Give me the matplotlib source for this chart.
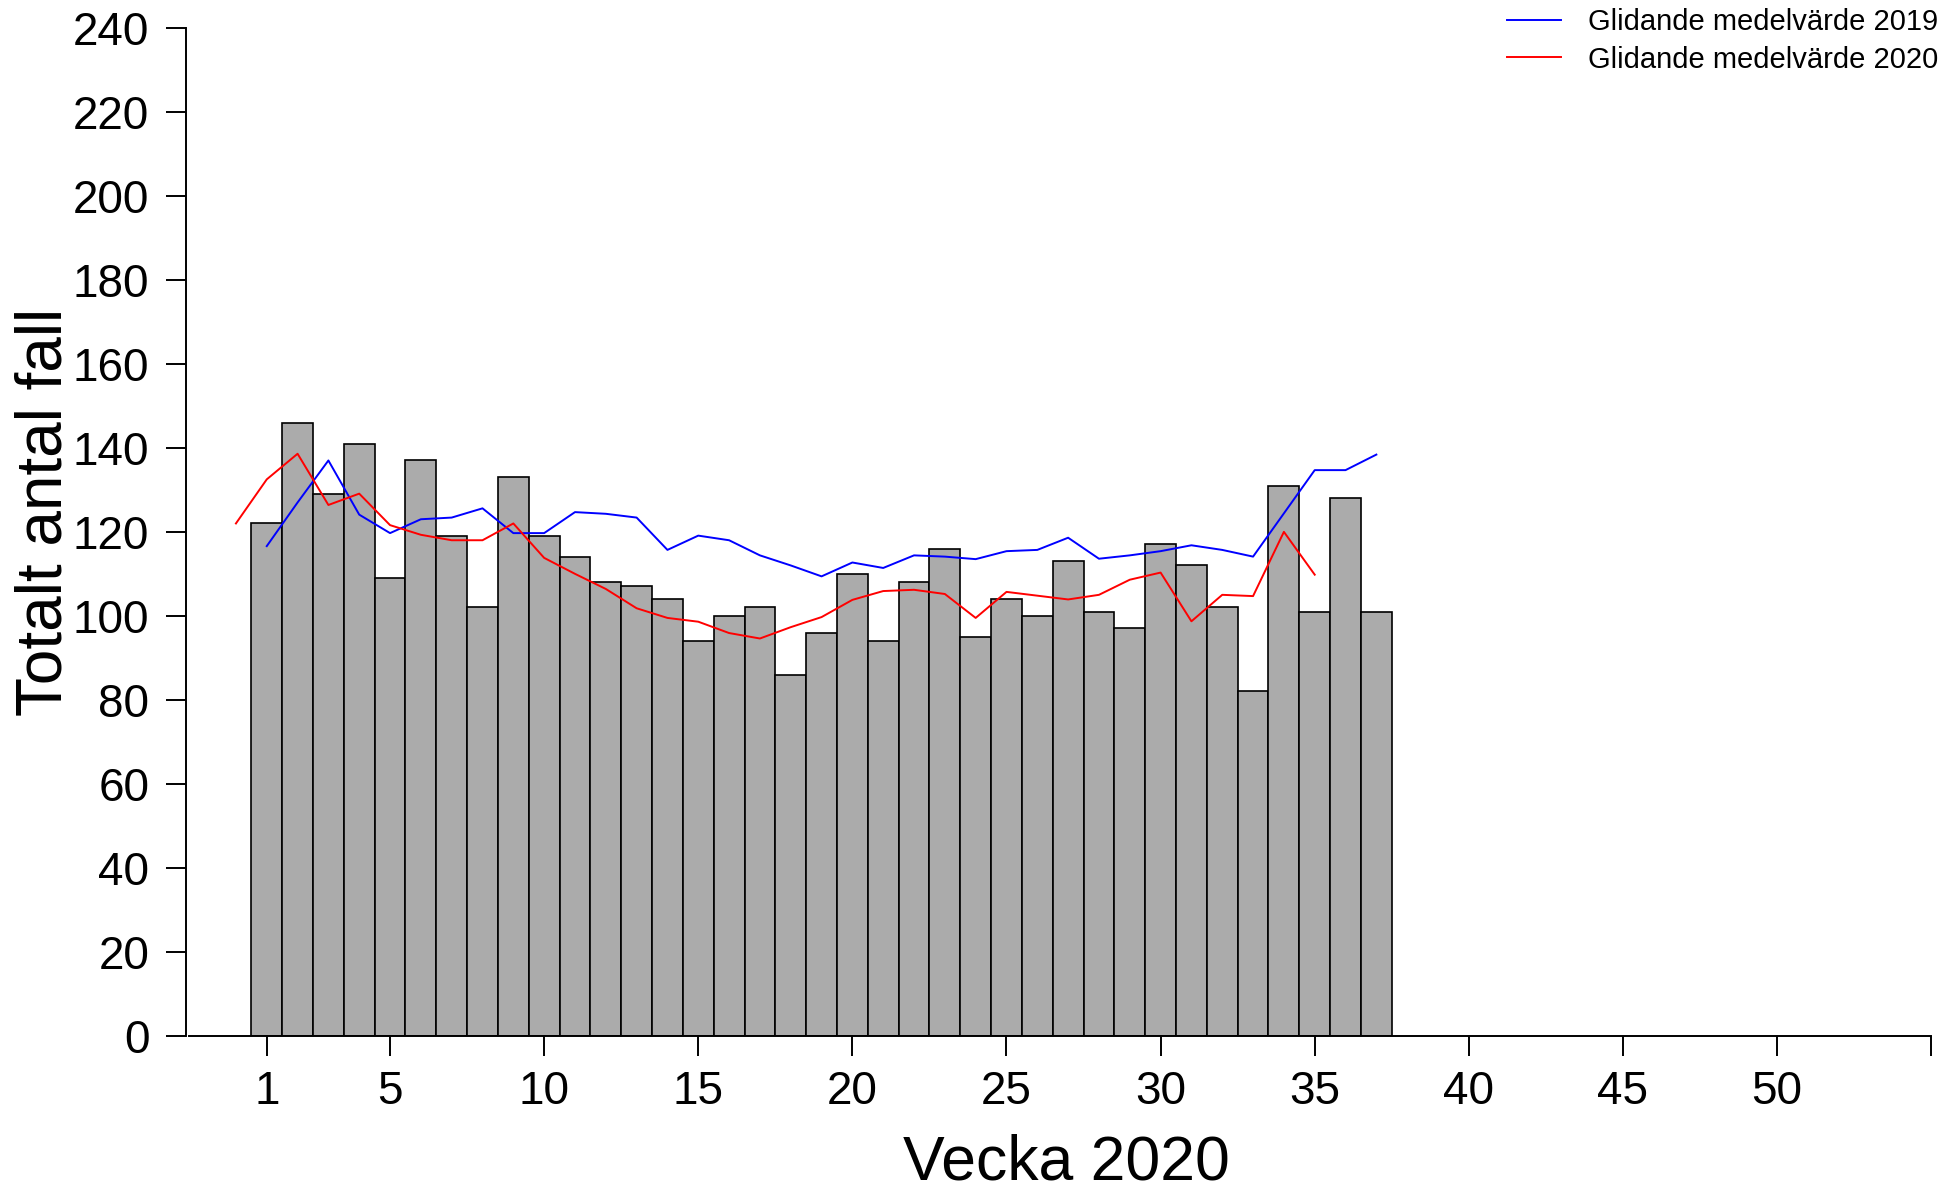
import matplotlib
matplotlib.use("Agg")
import matplotlib.pyplot as plt

plt.rcParams['font.family'] = ['Liberation Sans', 'DejaVu Sans']

# ---- data ----
weeks = list(range(1, 38))
counts = [122, 146, 129, 141, 109, 137, 119, 102, 133, 119,
          114, 108, 107, 104, 94, 100, 102, 86, 96, 110,
          94, 108, 116, 95, 104, 100, 113, 101, 97, 117,
          112, 102, 82, 131, 101, 128, 101]

weeks_2019 = list(range(1, 38))
ma_2019 = [116.6, 127.0, 137.0, 124.1, 119.7, 123.0, 123.4, 125.6, 119.7, 119.7,
           124.7, 124.3, 123.4, 115.7, 119.1, 118.0, 114.4, 112.0, 109.4, 112.7,
           111.4, 114.4, 114.1, 113.5, 115.4, 115.7, 118.6, 113.6, 114.4, 115.4,
           116.8, 115.7, 114.1, 124.4, 134.7, 134.7, 138.4]

weeks_2020 = list(range(0, 36))
ma_2020 = [122.0, 132.5, 138.6, 126.4, 129.1, 121.6, 119.3, 118.0, 118.0, 122.0,
           113.8, 110.0, 106.4, 101.8, 99.5, 98.6, 95.9, 94.6, 97.3, 99.7,
           103.8, 105.9, 106.2, 105.2, 99.5, 105.7, 104.8, 103.9, 105.0, 108.6,
           110.3, 98.7, 105.0, 104.7, 120.0, 109.8]

xticks = [1, 5, 10, 15, 20, 25, 30, 35, 40, 45, 50, 55]
xticklabels = ['1', '5', '10', '15', '20', '25', '30', '35', '40', '45', '50', '']
yticks = list(range(0, 241, 20))

label_2019 = 'Glidande medelvärde 2019'
label_2020 = 'Glidande medelvärde 2020'
xlabel = 'Vecka 2020'
ylabel = 'Totalt antal fall'

# ---- figure ----
W, H = 1954, 1189
fig = plt.figure(figsize=(W / 100, H / 100), dpi=100)
left_px, right_px, top_px, bot_px = 186, 1932.7, 28, 1035.7
ax = fig.add_axes([left_px / W, 1 - bot_px / H, (right_px - left_px) / W, (bot_px - top_px) / H])

xmin, xmax = -1.62, 55.05
ax.set_xlim(xmin, xmax)
ax.set_ylim(0, 240)

ax.bar(weeks, counts, width=1.0, color='#ABABAB', edgecolor='black', linewidth=1.2, zorder=2)
ax.plot(weeks_2019, ma_2019, color='#0000FF', linewidth=1.4, label=label_2019, zorder=3)
ax.plot(weeks_2020, ma_2020, color='#FF0000', linewidth=1.4, label=label_2020, zorder=3)

for s in ['top', 'right']:
    ax.spines[s].set_visible(False)
ax.spines['left'].set_bounds(0, 240)
ax.spines['bottom'].set_bounds(xmin + 3 / 30.82, 55)
for s in ['left', 'bottom']:
    ax.spines[s].set_linewidth(1.4)
    ax.spines[s].set_zorder(4)

ax.set_xticks(xticks)
ax.set_xticklabels(xticklabels)
ax.set_yticks(yticks)
ax.tick_params(axis='both', direction='out', length=14.4, width=1.4, labelsize=33, color='black')
ax.tick_params(axis='x', pad=10)
ax.tick_params(axis='y', pad=12)

fig.text(1066 / W, 1 - 1179 / H, xlabel, fontsize=45, ha='center', va='baseline')
fig.text(45 / W, 1 - 512 / H, ylabel, fontsize=46, ha='center', va='center', rotation=90)

leg = ax.legend(loc='upper right', bbox_to_anchor=(1938 / W, 1 - 8 / H),
                bbox_transform=fig.transFigure, frameon=False, fontsize=21,
                handlelength=1.83, handletextpad=0.93, labelspacing=0.33,
                borderpad=0, borderaxespad=0)

fig.savefig('out.png', dpi=100)
